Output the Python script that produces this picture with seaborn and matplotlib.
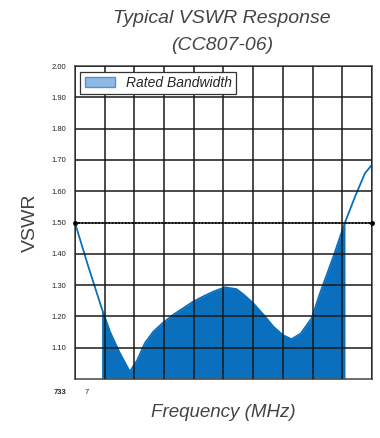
import matplotlib
matplotlib.use("Agg")
import matplotlib.pyplot as plt
from matplotlib.patches import Patch
import seaborn as sns
import pandas as pd
import numpy as np

# frequency in MHz (10 MHz per grid division), VSWR
freq_mhz = [733.0, 737.5, 742.0, 744.8, 748.0, 751.5, 754.0, 756.6, 759.4, 762.5,
            766.1, 772.8, 776.5, 779.6, 783.5, 787.4, 790.0, 793.0, 796.5, 799.8,
            803.0, 805.9, 809.0, 812.7, 815.5, 820.0, 823.9, 827.3, 830.6, 833.0]
vswr = [1.50, 1.36, 1.227, 1.151, 1.085, 1.023, 1.06, 1.115, 1.151, 1.178,
        1.205, 1.247, 1.265, 1.279, 1.293, 1.287, 1.268, 1.242, 1.205, 1.167,
        1.14, 1.127, 1.145, 1.194, 1.274, 1.391, 1.50, 1.583, 1.657, 1.685]
band_start, band_end = 742.0, 823.9
y_ticks = [1.10, 1.20, 1.30, 1.40, 1.50, 1.60, 1.70, 1.80, 1.90, 2.00]
limit_vswr = 1.50

df = pd.DataFrame({"freq": freq_mhz, "vswr": vswr})
blue = "#0a6fbd"
grey_text = "#444444"

sns.set_style("white")
plt.rcParams["font.family"] = ["Liberation Sans", "DejaVu Sans"]
fig = plt.figure(figsize=(3.8, 4.38), dpi=100)
ax = fig.add_axes([0.197, 0.135, 0.782, 0.714])

in_band = (df["freq"] >= band_start) & (df["freq"] <= band_end)
ax.fill_between(df["freq"], 1.0, df["vswr"], where=in_band, color=blue, lw=0, zorder=1)
sns.lineplot(data=df, x="freq", y="vswr", color=blue, lw=1.3, ax=ax, zorder=2)

ax.set_xlim(733, 833)
ax.set_ylim(1.0, 2.0)
ax.set_xticks(np.arange(733, 834, 10))
ax.set_yticks(y_ticks)
ax.set_yticklabels([f"{v:.2f}" for v in y_ticks], fontsize=5.5, color="#222222")
ax.set_xticklabels([])
ax.tick_params(length=0, pad=6)
ax.grid(True, color="#1a1a1a", lw=1.1)
ax.set_axisbelow(False)
for s in ax.spines.values():
    s.set_color("#555555")
    s.set_linewidth(1.2)

ax.axhline(limit_vswr, color="black", ls=(0, (1, 1)), lw=1.2, zorder=4)
ax.plot([733, 833], [limit_vswr, limit_vswr], "o", color="black", ms=2.5,
        clip_on=False, zorder=5)

ax.text(-0.05, -0.045, "733", transform=ax.transAxes, fontsize=5.5,
        fontweight="bold", ha="center", va="center")
ax.text(0.04, -0.045, "7", transform=ax.transAxes, fontsize=5.5,
        ha="center", va="center")

ax.set_ylabel("VSWR", fontsize=14, color=grey_text, labelpad=9)
ax.set_xlabel("Frequency (MHz)", fontsize=13.5, style="italic", color=grey_text,
              labelpad=12)
fig.text(0.585, 0.957, "Typical VSWR Response", ha="center", va="center",
         fontsize=14, style="italic", color=grey_text)
fig.text(0.585, 0.895, "(CC807-06)", ha="center", va="center",
         fontsize=14, style="italic", color=grey_text)

handle = Patch(facecolor="#8db9e4", edgecolor="#5c8fc4", label="Rated Bandwidth")
leg = ax.legend(handles=[handle], loc="upper left", fancybox=False,
                prop={"style": "italic", "size": 10}, borderaxespad=0.4,
                handlelength=2.2, borderpad=0.3, framealpha=1)
leg.get_frame().set_edgecolor("#333333")
leg.get_frame().set_linewidth(0.9)
leg.set_zorder(6)

fig.savefig("out.png", dpi=100)
